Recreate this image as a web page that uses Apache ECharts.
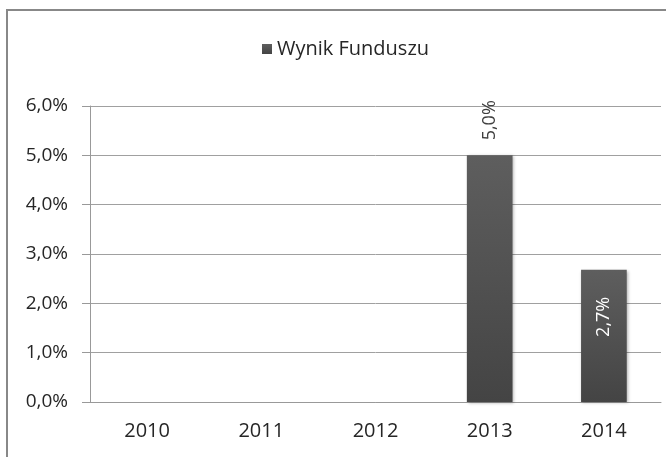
<!DOCTYPE html>
<html>
<head>
<meta charset="utf-8">
<script src="https://cdn.jsdelivr.net/npm/echarts@6/dist/echarts.min.js"></script>
<style>
  html, body { margin: 0; padding: 0; background: #fff; }
  #chart { width: 666px; height: 457px; }
</style>
</head>
<body>
<div id="chart"></div>
<script>
var years = ['2010', '2011', '2012', '2013', '2014'];
var wynik = [null, null, null, 5.0, 2.68];
var yTicks = [0, 1, 2, 3, 4, 5, 6];

function pct(v) {
    return v.toFixed(1).replace('.', ',') + '%';
}

var font = 'Open Sans';
var barColor = new echarts.graphic.LinearGradient(0, 0, 0, 1, [
    {offset: 0, color: '#5e5e5e'},
    {offset: 1, color: '#444444'}
]);

var myChart = echarts.init(document.getElementById('chart'));
myChart.setOption({
    animation: false,
    textStyle: {fontFamily: font},
    graphic: [{
        type: 'rect',
        shape: {x: 7, y: 10, width: 700, height: 500},
        style: {fill: 'none', stroke: '#888888', lineWidth: 2},
        silent: true
    }],
    legend: {
        data: ['Wynik Funduszu'],
        left: 257,
        top: 34,
        icon: 'rect',
        itemWidth: 10,
        itemHeight: 10,
        itemGap: 4,
        textStyle: {fontFamily: font, fontSize: 20, color: '#262626'}
    },
    grid: {left: 90, right: 5, top: 106, bottom: 55},
    xAxis: {
        type: 'category',
        data: years,
        axisLine: {lineStyle: {color: '#999', width: 1}},
        axisTick: {length: 6, lineStyle: {color: '#999'}},
        axisLabel: {fontFamily: font, fontSize: 20, color: '#262626', margin: 19}
    },
    yAxis: {
        type: 'value',
        min: yTicks[0],
        max: yTicks[yTicks.length - 1],
        interval: 1,
        axisLine: {show: true, lineStyle: {color: '#999'}},
        axisTick: {show: true, length: 8, lineStyle: {color: '#999'}},
        splitLine: {lineStyle: {color: '#a0a0a0'}},
        axisLabel: {
            fontFamily: font, fontSize: 19, color: '#262626', margin: 22,
            formatter: function (v) { return pct(v); }
        }
    },
    series: [{
        name: 'Wynik Funduszu',
        type: 'bar',
        barWidth: '40%',
        data: [
            wynik[0], wynik[1], wynik[2],
            {value: wynik[3], label: {position: 'top', distance: 15, align: 'left', color: '#404040'}},
            {value: wynik[4], label: {position: 'insideTop', distance: 27, align: 'right', color: '#ffffff'}}
        ],
        itemStyle: {
            color: barColor,
            shadowBlur: 3,
            shadowColor: 'rgba(0,0,0,0.3)',
            shadowOffsetX: 1,
            shadowOffsetY: 1
        },
        label: {
            show: true,
            rotate: 90,
            verticalAlign: 'middle',
            fontFamily: font,
            fontSize: 18,
            formatter: function (p) { return pct(p.value); }
        }
    }]
});
</script>
</body>
</html>
